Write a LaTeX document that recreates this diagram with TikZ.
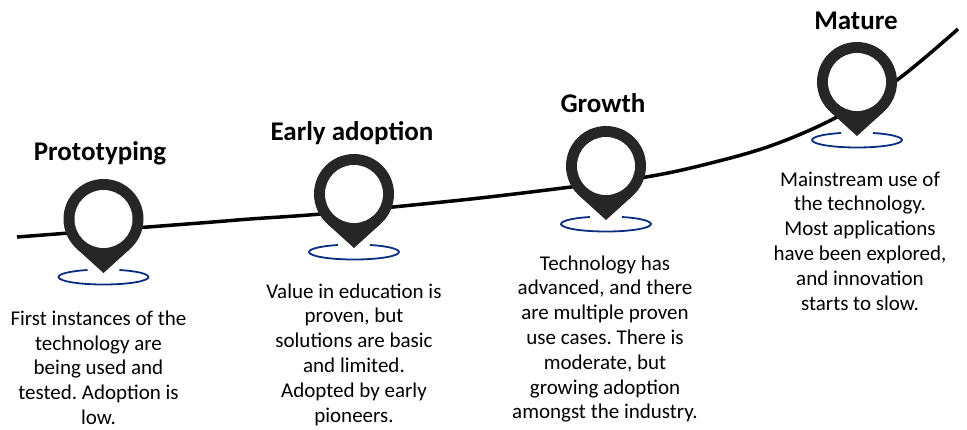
\documentclass[tikz,border=0pt]{standalone}
\usepackage{fontspec}
\setmainfont{Carlito}
\frenchspacing
\definecolor{pingray}{HTML}{262626}
\definecolor{ringblue}{HTML}{0B2E83}
\tikzset{
  stagetitle/.style={font=\fontsize{27}{31}\selectfont\bfseries, inner sep=0pt, anchor=base},
  stagetext/.style={font=\fontsize{21}{24.8}\selectfont\frenchspacing, align=center, inner sep=0pt, anchor=base},
  trendline/.style={line width=3.5pt, black},
  ring/.style={ringblue, line width=1.8pt},
  pinbody/.style={fill=pingray},
}
\newcommand\mypin[3]{%
  \coordinate (#1) at (#2,#3);
  \coordinate (#1-ring) at (#2,#3+58);
  \draw[ring] ([shift={(290.8:45 and 7.5)}]#1-ring) arc[start angle=290.8, end angle=609.2, x radius=45, y radius=7.5];
  \fill[pinbody] (#1) circle[radius=40];
  \fill[pinbody] ([shift={(0,54)}]#1) -- ([shift={(26.9,29.6)}]#1) -- ([shift={(-26.9,29.6)}]#1) -- cycle;
  \fill[white] (#1) circle[radius=29];
}
\begin{document}
\begin{tikzpicture}[x=1pt,y=-1pt]
\useasboundingbox (0,0) rectangle (967,429);
\draw[trendline] plot[smooth, tension=0.6] coordinates {(17,237) (200,223) (250,219) (315,214.5) (393,207) (480,198) (567,187.5) (646,177) (707,164) (773,145) (837,117) (897,80) (958,29)};
\mypin{p1}{103.5}{219}
\mypin{p2}{354}{194}
\mypin{p3}{606}{166}
\mypin{p4}{857}{82}
\node[stagetitle] (t1) at (100,160) {Prototyping};
\node[stagetitle] (t2) at (352,140) {Early adoption};
\node[stagetitle] (t3) at (603,112) {Growth};
\node[stagetitle] (t4) at (856,29) {Mature};
\node[stagetext] (d1) at (98.5,424.5) {First instances of the\\technology are\\being used and\\tested. Adoption is\\low.};
\node[stagetext] (d2) at (354,422) {Value in education is\\proven, but\\solutions are basic\\and limited.\\Adopted by early\\pioneers.};
\node[stagetext] (d3) at (605,418.8) {Technology has\\advanced, and there\\are multiple proven\\use cases. There is\\moderate, but\\growing adoption\\amongst the industry.};
\node[stagetext] (d4) at (860,310) {Mainstream use of\\the technology.\\Most applications\\have been explored,\\and innovation\\starts to slow.};
\end{tikzpicture}
\end{document}
